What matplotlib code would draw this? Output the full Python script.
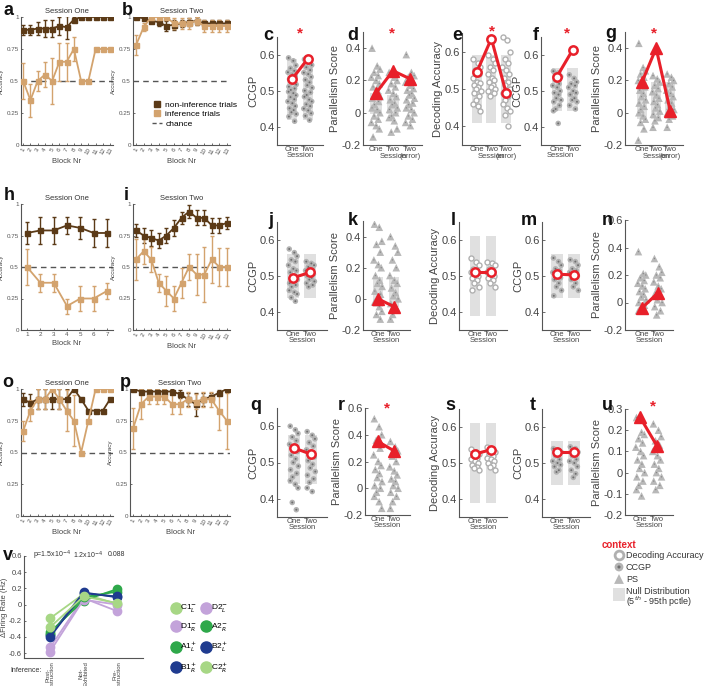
import matplotlib
matplotlib.use('Agg')
import matplotlib.pyplot as plt
from matplotlib.lines import Line2D
from matplotlib.patches import Rectangle

plt.rcParams['font.family'] = ['Liberation Sans', 'DejaVu Sans']

W, H = 707, 686
DARK = '#5b3a17'
LIGHT = '#d3a36e'
RED = '#e8202a'
NULLC = '#e0e0e0'

# ---------- behaviour: accuracy per block ----------
blocks13 = list(range(1, 14))
blocks7 = list(range(1, 8))

a_non = [0.90, 0.90, 0.91, 0.91, 0.91, 0.93, 0.92, 0.98, 1.0, 1.0, 1.0, 1.0, 1.0]
a_non_err = [0.04, 0.04, 0.05, 0.07, 0.07, 0.07, 0.09, 0.02, 0, 0, 0, 0, 0]
a_inf = [0.50, 0.35, 0.50, 0.55, 0.50, 0.65, 0.65, 0.75, 0.50, 0.50, 0.75, 0.75, 0.75]
a_inf_err = [0.14, 0.13, 0.08, 0.10, 0.18, 0.15, 0.15, 0.09, 0, 0, 0, 0, 0]

b_non = [1.0, 0.99, 0.97, 0.96, 0.93, 0.94, 0.95, 0.96, 0.97, 0.95, 0.95, 0.95, 0.95]
b_non_err = [0.01, 0.01, 0.02, 0.03, 0.04, 0.04, 0.03, 0.03, 0.03, 0.03, 0.03, 0.03, 0.03]
b_inf = [0.78, 0.92, 1.0, 1.0, 1.0, 0.95, 0.95, 0.95, 0.97, 0.93, 0.93, 0.93, 0.93]
b_inf_err = [0.08, 0.03, 0, 0, 0, 0.04, 0.04, 0.04, 0.03, 0.05, 0.05, 0.05, 0.05]

h_non = [0.77, 0.79, 0.79, 0.83, 0.81, 0.77, 0.77]
h_non_err = [0.09, 0.11, 0.11, 0.07, 0.09, 0.11, 0.11]
h_inf = [0.50, 0.375, 0.375, 0.19, 0.25, 0.25, 0.31]
h_inf_err = [0.14, 0.07, 0.07, 0.06, 0.10, 0.10, 0.06]

i_non = [0.79, 0.75, 0.73, 0.71, 0.75, 0.81, 0.89, 0.94, 0.89, 0.89, 0.83, 0.83, 0.85]
i_non_err = [0.05, 0.06, 0.06, 0.06, 0.06, 0.06, 0.05, 0.05, 0.06, 0.06, 0.06, 0.06, 0.05]
i_inf = [0.56, 0.625, 0.56, 0.375, 0.31, 0.25, 0.375, 0.50, 0.44, 0.44, 0.56, 0.50, 0.50]
i_inf_err = [0.16, 0.10, 0.10, 0.07, 0.12, 0.10, 0.12, 0.10, 0.16, 0.22, 0.19, 0.15, 0.15]

o_non = [0.92, 0.89, 0.92, 0.92, 0.92, 0.92, 0.92, 1.0, 0.92, 0.83, 0.83, 0.83, 0.92]
o_non_err = [0.05, 0.07, 0.08, 0.08, 0.08, 0.08, 0.08, 0, 0, 0, 0, 0, 0]
o_inf = [0.67, 0.83, 0.92, 0.92, 1.0, 0.92, 0.83, 0.75, 0.50, 0.75, 1.0, 1.0, 1.0]
o_inf_err = [0.08, 0.08, 0.08, 0.08, 0, 0.08, 0.16, 0.20, 0, 0, 0, 0, 0]

p_non = [1.0, 0.98, 0.98, 0.98, 0.98, 0.98, 0.96, 0.92, 0.88, 0.92, 0.94, 0.97, 1.0]
p_non_err = [0.01, 0.02, 0.02, 0.02, 0.02, 0.02, 0.03, 0.05, 0.09, 0.05, 0.03, 0.02, 0.01]
p_inf = [0.69, 0.88, 0.94, 0.94, 0.94, 0.88, 0.88, 0.92, 0.90, 0.92, 0.92, 0.83, 0.75]
p_inf_err = [0.16, 0.12, 0.06, 0.06, 0.06, 0.08, 0.08, 0.06, 0.06, 0.06, 0.06, 0.15, 0.22]

# ---------- geometry scores ----------
c_one = [0.592, 0.584, 0.571, 0.563, 0.556, 0.552, 0.546, 0.541, 0.533, 0.527, 0.522, 0.518, 0.512, 0.507,
         0.503, 0.498, 0.494, 0.488, 0.483, 0.477, 0.471, 0.466, 0.458, 0.452, 0.447, 0.441, 0.436, 0.429, 0.416]
c_two = [0.588, 0.579, 0.572, 0.566, 0.558, 0.551, 0.547, 0.539, 0.531, 0.524, 0.516, 0.509, 0.501, 0.496,
         0.489, 0.484, 0.476, 0.471, 0.463, 0.458, 0.451, 0.446, 0.438, 0.431, 0.419]
c_mean = [0.533, 0.590]

d_one = [0.40, 0.29, 0.27, 0.25, 0.23, 0.22, 0.20, 0.18, 0.16, 0.14, 0.12, 0.10, 0.09, 0.07, 0.05, 0.03, 0.02,
         0.0, -0.02, -0.04, -0.06, -0.08, -0.10, -0.15]
d_two = [0.25, 0.22, 0.20, 0.18, 0.16, 0.14, 0.12, 0.10, 0.08, 0.06, 0.05, 0.03, 0.02, 0.0, -0.02, -0.03,
         -0.05, -0.10, -0.12]
d_err = [0.36, 0.25, 0.23, 0.22, 0.20, 0.19, 0.17, 0.15, 0.14, 0.12, 0.11, 0.09, 0.08, 0.06, 0.05, 0.03, 0.02,
         0.0, -0.02, -0.04, -0.06, -0.08]
d_mean = [0.12, 0.26, 0.21]

e_one = [0.58, 0.57, 0.56, 0.55, 0.54, 0.53, 0.52, 0.515, 0.51, 0.505, 0.50, 0.495, 0.49, 0.48, 0.47, 0.46,
         0.455, 0.44]
e_two = [0.59, 0.58, 0.57, 0.56, 0.55, 0.54, 0.53, 0.525, 0.52, 0.51, 0.505, 0.50, 0.495, 0.49, 0.48]
e_err = [0.64, 0.63, 0.60, 0.58, 0.57, 0.56, 0.55, 0.54, 0.53, 0.52, 0.51, 0.50, 0.49, 0.48, 0.47, 0.46,
         0.45, 0.44, 0.43, 0.40]
e_mean = [0.545, 0.635, 0.49]

f_one = [0.555, 0.55, 0.54, 0.53, 0.52, 0.515, 0.51, 0.50, 0.495, 0.49, 0.48, 0.475, 0.47, 0.46, 0.45,
         0.445, 0.41]
f_two = [0.545, 0.535, 0.525, 0.52, 0.515, 0.51, 0.50, 0.495, 0.49, 0.48, 0.475, 0.47, 0.46, 0.45]
f_mean = [0.54, 0.615]

g_one = [0.43, 0.28, 0.26, 0.24, 0.22, 0.20, 0.18, 0.16, 0.14, 0.12, 0.10, 0.08, 0.06, 0.04, 0.02, 0.0,
         -0.02, -0.04, -0.06, -0.10, -0.17]
g_two = [0.23, 0.21, 0.19, 0.17, 0.15, 0.13, 0.11, 0.09, 0.07, 0.05, 0.03, 0.01, -0.01, -0.03, -0.05, -0.09]
g_err = [0.24, 0.22, 0.20, 0.18, 0.16, 0.14, 0.12, 0.10, 0.08, 0.06, 0.04, 0.02, 0.0, -0.02, -0.04, -0.09]
g_mean = [0.19, 0.40, 0.01]

j_one = [0.575, 0.565, 0.555, 0.545, 0.54, 0.53, 0.52, 0.515, 0.51, 0.50, 0.495, 0.49, 0.48, 0.475, 0.47,
         0.46, 0.455, 0.45, 0.44, 0.43]
j_two = [0.54, 0.535, 0.53, 0.525, 0.52, 0.515, 0.51, 0.505, 0.50, 0.495, 0.49, 0.485, 0.48, 0.475, 0.47]
j_mean = [0.495, 0.51]

k_one = [0.48, 0.46, 0.37, 0.35, 0.30, 0.25, 0.22, 0.20, 0.15, 0.12, 0.10, 0.08, 0.05, 0.03, 0.0, -0.02,
         -0.05, -0.08, -0.10, -0.13]
k_two = [0.40, 0.34, 0.30, 0.25, 0.20, 0.15, 0.12, 0.10, 0.07, 0.04, 0.02, 0.0, -0.03, -0.06, -0.10, -0.13]
k_mean = [0.0, -0.05]

l_one = [0.55, 0.54, 0.53, 0.52, 0.515, 0.51, 0.505, 0.50, 0.495, 0.49, 0.48, 0.47, 0.46]
l_two = [0.54, 0.535, 0.53, 0.52, 0.515, 0.51, 0.505, 0.50, 0.495, 0.49, 0.48, 0.47]
l_mean = [0.51, 0.51]

m_one = [0.55, 0.54, 0.53, 0.52, 0.515, 0.51, 0.50, 0.495, 0.49, 0.48, 0.47, 0.46, 0.445]
m_two = [0.545, 0.54, 0.53, 0.52, 0.515, 0.51, 0.505, 0.50, 0.49, 0.48, 0.47, 0.46]
m_mean = [0.505, 0.503]

n_one = [0.37, 0.21, 0.20, 0.18, 0.16, 0.14, 0.12, 0.10, 0.08, 0.06, 0.04, 0.02, 0.0, -0.02, -0.04, -0.06]
n_two = [0.32, 0.26, 0.22, 0.20, 0.18, 0.15, 0.12, 0.10, 0.07, 0.05, 0.02, 0.0, -0.03, -0.06, -0.09]
n_mean = [-0.04, 0.07]

q_one = [0.60, 0.59, 0.58, 0.57, 0.56, 0.55, 0.54, 0.53, 0.52, 0.51, 0.50, 0.49, 0.48, 0.47, 0.46, 0.45,
         0.44, 0.43, 0.39, 0.37]
q_two = [0.585, 0.575, 0.565, 0.555, 0.545, 0.535, 0.525, 0.515, 0.505, 0.495, 0.485, 0.475, 0.465, 0.455,
         0.445, 0.43, 0.42]
q_mean = [0.54, 0.523]

r_one = [0.52, 0.46, 0.40, 0.36, 0.30, 0.25, 0.20, 0.17, 0.14, 0.11, 0.08, 0.05, 0.02, 0.0, -0.03, -0.06,
         -0.10, -0.15]
r_two = [0.35, 0.31, 0.28, 0.24, 0.20, 0.16, 0.13, 0.10, 0.07, 0.05, 0.02, 0.0, -0.03, -0.06, -0.10, -0.15]
r_mean = [0.35, 0.28]

s_one = [0.54, 0.53, 0.525, 0.52, 0.515, 0.51, 0.505, 0.50, 0.495, 0.49, 0.485, 0.48]
s_two = [0.545, 0.54, 0.53, 0.525, 0.52, 0.515, 0.51, 0.505, 0.50, 0.495, 0.49, 0.48]
s_mean = [0.525, 0.537]

t_one = [0.54, 0.535, 0.53, 0.52, 0.51, 0.505, 0.50, 0.495, 0.49, 0.48, 0.475]
t_two = [0.545, 0.54, 0.53, 0.52, 0.51, 0.505, 0.50, 0.49, 0.48, 0.47, 0.46]
t_mean = [0.53, 0.53]

u_one = [0.26, 0.19, 0.18, 0.16, 0.14, 0.12, 0.10, 0.08, 0.06, 0.04, 0.02, 0.0, -0.02, -0.04, -0.06,
         -0.08, -0.11]
u_two = [0.23, 0.20, 0.17, 0.15, 0.13, 0.10, 0.08, 0.06, 0.04, 0.02, 0.0, -0.02, -0.04, -0.06, -0.08]
u_mean = [0.26, 0.125]

# ---------- v: firing rate change ----------
v_conditions = ['Post-\nInstruction', 'Not-\nExhibited', 'Pre-\nInstruction']
v_names = [r'C1$^{-}_{L}$', r'D1$^{-}_{R}$', r'A1$^{+}_{L}$', r'B1$^{+}_{R}$',
           r'D2$^{-}_{L}$', r'A2$^{-}_{R}$', r'B2$^{+}_{L}$', r'C2$^{+}_{R}$']
v_values = [[-0.17, 0.13, 0.01], [-0.53, 0.08, -0.08], [-0.34, 0.05, 0.19], [-0.38, 0.15, 0.09],
            [-0.58, 0.06, 0.0], [-0.36, 0.09, 0.16], [-0.40, 0.14, 0.10], [-0.28, 0.10, 0.02]]
v_colors = ['#a7d785', '#c3a3da', '#2ea84a', '#1f3b8f', '#c3a3da', '#2ea84a', '#1f3b8f', '#a7d785']
v_pvals = [r'p=1.5x10$^{-4}$', r'1.2x10$^{-4}$', '0.088']

fig = plt.figure(figsize=(7.07, 6.86), dpi=100)


def box(x0, y0, x1, y1):
    return fig.add_axes([x0 / W, 1 - y1 / H, (x1 - x0) / W, (y1 - y0) / H])


def ftext(x, y, s, **kw):
    fig.text(x / W, 1 - y / H, s, **kw)


def clean(ax):
    for sp in ['top', 'right']:
        ax.spines[sp].set_visible(False)
    for sp in ['left', 'bottom']:
        ax.spines[sp].set_color('#555555')
        ax.spines[sp].set_linewidth(0.8)


def acc_panel(ax, blocks, non, non_err, inf, inf_err, title, xlim, rot=60):
    clean(ax)
    ax.axhline(0.5, color='#555555', lw=1, dashes=(4, 3), zorder=1)
    ax.errorbar(blocks, non, yerr=non_err, color=DARK, marker='s', ms=3.6, lw=1.3,
                elinewidth=1, capsize=1.5, zorder=3)
    ax.errorbar(blocks, inf, yerr=inf_err, color=LIGHT, marker='s', ms=3.6, lw=1.3,
                elinewidth=1, capsize=1.5, zorder=3)
    ax.set_ylim(0, 1)
    ax.set_xlim(*xlim)
    ax.set_yticks([0, 0.25, 0.5, 0.75, 1])
    ax.set_yticklabels(['0', '0.25', '0.5', '0.75', '1'], fontsize=4.5, color='#444444')
    ax.set_xticks(blocks)
    ax.set_xticklabels([str(b) for b in blocks], fontsize=4.5, rotation=rot, color='#444444')
    ax.tick_params(direction='in', length=1.5, width=0.6, pad=1.5, colors='#555555')
    ax.set_ylabel('Accuracy', fontsize=4.5, color='#444444', labelpad=2)
    ax.set_xlabel('Block Nr', fontsize=5.5, color='#444444', labelpad=2)
    ax.set_title(title, fontsize=5.5, color='#333333', pad=3)


JIT = [-0.22, 0.08, 0.24, -0.10, 0.14, -0.26, 0.02, 0.20, -0.16, 0.10, -0.04, 0.26, -0.20, 0.16, -0.08]


def score_panel(ax, cols, means, kind, ylim, xlim, yticks, ylabel, nulls=None, three=False):
    clean(ax)
    for i, vals in enumerate(cols):
        x = i + 1
        if nulls is not None and nulls[i] is not None:
            lo, hi = nulls[i]
            ax.add_patch(Rectangle((x - 0.34, lo), 0.68, hi - lo, color=NULLC, lw=0, zorder=0))
        xs = [x + JIT[k % len(JIT)] for k in range(len(vals))]
        if kind == 'ccgp':
            ax.scatter(xs, vals, s=16, c='#b3b3b3', edgecolors='none', zorder=2)
            ax.scatter(xs, vals, s=2, c='#6e6e6e', edgecolors='none', zorder=3)
        elif kind == 'dec':
            ax.scatter(xs, vals, s=13, facecolors='white', edgecolors='#b0b0b0', linewidths=1, zorder=2)
        else:
            ax.scatter(xs, vals, s=30, marker='^', c='#b8b8b8', edgecolors='none', zorder=2)
            ax.scatter(xs, vals, s=1, c='#888888', edgecolors='none', zorder=3)
    mx = list(range(1, len(means) + 1))
    if kind == 'ps':
        ax.plot(mx, means, color=RED, lw=2.2, marker='^', ms=8, mfc=RED, mec=RED, zorder=5)
    else:
        ax.plot(mx, means, color=RED, lw=2.2, marker='o', ms=6, mfc='white', mec=RED, mew=1.8, zorder=5)
    ax.set_ylim(*ylim)
    ax.set_xlim(*xlim)
    ax.set_yticks(yticks)
    ax.set_yticklabels([('%g' % t) if t != 0 else '0' for t in yticks], fontsize=8, color='#444444')
    ax.set_xticks(mx)
    if three:
        ax.set_xticklabels(['One', 'Two\nSession', 'Two\n(error)'], fontsize=5.5, color='#444444',
                           linespacing=0.85)
    else:
        ax.set_xticklabels(['One', 'Two'], fontsize=5.5, color='#444444')
        ax.set_xlabel('Session', fontsize=5.5, color='#444444', labelpad=-1)
    ax.tick_params(axis='x', length=0, pad=1)
    ax.tick_params(axis='y', direction='in', length=2, width=0.6, pad=1.5, colors='#555555')
    ax.tick_params(axis='y', labelcolor='#444444')
    ax.set_ylabel(ylabel, fontsize=8, color='#444444', labelpad=1)


# ---------- accuracy panels ----------
ax = box(21, 17, 113, 145)
acc_panel(ax, blocks13, a_non, a_non_err, a_inf, a_inf_err, 'Session One', (0.7, 13.4))
ax = box(133, 17, 230, 145)
acc_panel(ax, blocks13, b_non, b_non_err, b_inf, b_inf_err, 'Session Two', (0.6, 13.4))
handles = [Line2D([], [], color=DARK, marker='s', ms=4, lw=0),
           Line2D([], [], color=LIGHT, marker='s', ms=4, lw=0),
           Line2D([], [], color='#555555', lw=1, dashes=(3, 2))]
ax.legend(handles, ['non-inference trials', 'inference trials', 'chance'], loc='upper left',
          bbox_to_anchor=(0.16, 0.37), frameon=False, fontsize=6, handlelength=1.2,
          handletextpad=0.4, labelspacing=0.2, borderaxespad=0)

ax = box(21, 204, 113, 330)
acc_panel(ax, blocks7, h_non, h_non_err, h_inf, h_inf_err, 'Session One', (0.55, 7.45), rot=0)
ax = box(133, 204, 230, 330)
acc_panel(ax, blocks13, i_non, i_non_err, i_inf, i_inf_err, 'Session Two', (0.6, 13.4))

ax = box(21, 389, 113, 516)
acc_panel(ax, blocks13, o_non, o_non_err, o_inf, o_inf_err, 'Session One', (0.7, 13.4))
ax = box(130, 389, 230, 516)
acc_panel(ax, blocks13, p_non, p_non_err, p_inf, p_inf_err, 'Session Two', (0.6, 13.4))

# ---------- geometry panels row 1 ----------
ccgp_t = [0.4, 0.5, 0.6]
ps_t = [-0.2, 0, 0.2, 0.4]
ax = box(277, 37, 323, 145)
score_panel(ax, [c_one, c_two], c_mean, 'ccgp', (0.35, 0.65), (0.05, 2.95), ccgp_t, 'CCGP',
            nulls=[(0.42, 0.59), (0.42, 0.59)])
ax = box(363, 32, 422, 145)
score_panel(ax, [d_one, d_two, d_err], d_mean, 'ps', (-0.2, 0.5), (0.25, 3.7), ps_t, 'Parallelism Score',
            nulls=[(-0.01, 0.12), (-0.01, 0.11), None], three=True)
ax = box(462, 33, 520, 145)
score_panel(ax, [e_one, e_two, e_err], e_mean, 'dec', (0.35, 0.65), (0.0, 3.95), ccgp_t, 'Decoding Accuracy',
            nulls=[(0.41, 0.59), (0.41, 0.59), (0.41, 0.59)], three=True)
ax = box(541, 37, 580, 145)
score_panel(ax, [f_one, f_two], f_mean, 'ccgp', (0.35, 0.65), (0.0, 2.45), ccgp_t, 'CCGP',
            nulls=[(0.445, 0.565), (0.445, 0.565)])
ax = box(625, 32, 683, 145)
score_panel(ax, [g_one, g_two, g_err], g_mean, 'ps', (-0.2, 0.5), (-0.2, 3.9), ps_t, 'Parallelism Score',
            nulls=[(-0.04, 0.19), (-0.04, 0.19), (-0.04, 0.19)], three=True)

# ---------- row 2 ----------
ax = box(277, 222, 327, 330)
score_panel(ax, [j_one, j_two], j_mean, 'ccgp', (0.35, 0.65), (0.06, 3.0), ccgp_t, 'CCGP',
            nulls=[(0.44, 0.56), (0.44, 0.56)])
ax = box(363, 221, 410, 330)
score_panel(ax, [k_one, k_two], k_mean, 'ps', (-0.2, 0.5), (0.06, 3.0), ps_t, 'Parallelism Score',
            nulls=[(-0.05, 0.14), (-0.05, 0.14)])
ax = box(459, 222, 507, 330)
score_panel(ax, [l_one, l_two], l_mean, 'dec', (0.35, 0.65), (0.0, 3.0), ccgp_t, 'Decoding Accuracy',
            nulls=[(0.39, 0.61), (0.39, 0.61)])
ax = box(542, 222, 590, 330)
score_panel(ax, [m_one, m_two], m_mean, 'ccgp', (0.35, 0.65), (0.1, 2.95), ccgp_t, 'CCGP',
            nulls=[(0.44, 0.56), (0.44, 0.56)])
ax = box(625, 220, 673, 330)
score_panel(ax, [n_one, n_two], n_mean, 'ps', (-0.2, 0.6), (-0.06, 2.94), [-0.2, 0, 0.2, 0.4, 0.6],
            'Parallelism Score')

# ---------- row 3 ----------
ax = box(277, 408, 327, 517)
score_panel(ax, [q_one, q_two], q_mean, 'ccgp', (0.35, 0.65), (0.0, 2.95), ccgp_t, 'CCGP',
            nulls=[(0.44, 0.575), (0.44, 0.575)])
ax = box(365, 408, 410, 515)
score_panel(ax, [r_one, r_two], r_mean, 'ps', (-0.2, 0.6), (0.2, 3.0), [-0.2, 0, 0.2, 0.4, 0.6],
            'Parallelism Score')
ax = box(459, 409, 507, 517)
score_panel(ax, [s_one, s_two], s_mean, 'dec', (0.35, 0.65), (0.0, 3.0), ccgp_t, 'Decoding Accuracy',
            nulls=[(0.39, 0.61), (0.39, 0.61)])
ax = box(542, 409, 590, 517)
score_panel(ax, [t_one, t_two], t_mean, 'ccgp', (0.35, 0.65), (0.1, 2.95), ccgp_t, 'CCGP',
            nulls=[(0.44, 0.56), (0.44, 0.56)])
ax = box(625, 409, 673, 515)
score_panel(ax, [u_one, u_two], u_mean, 'ps', (-0.2, 0.3), (0.1, 2.94), [-0.2, -0.1, 0, 0.1, 0.2, 0.3],
            'Parallelism Score')

# ---------- v ----------
ax = box(24, 556, 143, 658)
clean(ax)
for vals, col in zip(v_values, v_colors):
    ax.plot([1, 2, 3], vals, color=col, lw=1.3, marker='o', ms=6, zorder=3)
ax.set_ylim(-0.66, 0.6)
ax.set_xlim(0.22, 3.78)
ax.set_yticks([-0.6, -0.4, -0.2, 0, 0.2, 0.4, 0.6])
ax.set_yticklabels(['-0.6', '-0.4', '-0.2', '0', '0.2', '0.4', '0.6'], fontsize=5.5, color='#444444')
ax.set_xticks([1, 2, 3])
ax.set_xticklabels(v_conditions, fontsize=4.3, rotation=90, color='#444444', linespacing=0.85, va='top')
ax.tick_params(axis='x', length=0, pad=2)
ax.tick_params(axis='y', direction='in', length=1.5, width=0.6, pad=1.5, colors='#555555')
ax.tick_params(axis='y', labelcolor='#444444')
ax.set_ylabel('ΔFiring Rate (Hz)', fontsize=5.5, color='#444444', labelpad=1)
for k, s in enumerate(v_pvals):
    ftext([33, 73, 108][k], 555, s, fontsize=5, color='#333333', va='center')
ftext(10, 671, 'Inference:', fontsize=5, color='#333333', va='center')
vh = [Line2D([], [], color=c, marker='o', ms=8, lw=0) for c in v_colors]
ax.legend(vh, v_names, ncol=2, loc='upper left', bbox_to_anchor=(168 / W, 1 - 600 / H),
          bbox_transform=fig.transFigure, frameon=False, fontsize=6, handletextpad=0.1,
          labelspacing=0.75, columnspacing=0.5, handlelength=1.0, borderaxespad=0)

# ---------- context legend ----------
lg = box(600, 538, 707, 610)
lg.axis('off')
lg.set_xlim(600, 707)
lg.set_ylim(610, 538)
lg.text(602, 545, 'context', color=RED, fontsize=7, fontweight='bold', va='center')
lg.scatter([619], [555], s=40, facecolors='white', edgecolors='#b0b0b0', linewidths=2)
lg.text(626, 555, 'Decoding Accuracy', fontsize=6.5, color='#333333', va='center')
lg.scatter([619], [567], s=40, c='#b3b3b3', edgecolors='none')
lg.scatter([619], [567], s=5, c='#6e6e6e', edgecolors='none')
lg.text(626, 567, 'CCGP', fontsize=6.5, color='#333333', va='center')
lg.scatter([619], [579], s=50, marker='^', c='#b8b8b8', edgecolors='none')
lg.text(626, 579, 'PS', fontsize=6.5, color='#333333', va='center')
lg.add_patch(Rectangle((613, 588), 12, 13, color=NULLC, lw=0))
lg.text(626, 591, 'Null Distribution', fontsize=6.5, color='#333333', va='center')
lg.text(626, 602, r'(5$^{th}$ - 95th pctle)', fontsize=6.5, color='#333333', va='center')

# ---------- panel letters and stars ----------
letters = [('a', 4, 15), ('b', 122, 15), ('c', 263, 40), ('d', 347, 40), ('e', 452, 40), ('f', 533, 40),
           ('g', 605, 38), ('h', 4, 200), ('i', 124, 200), ('j', 268, 225), ('k', 348, 225), ('l', 451, 225),
           ('m', 521, 225), ('n', 602, 225), ('o', 2, 387), ('p', 120, 387), ('q', 250, 410), ('r', 338, 410),
           ('s', 445, 410), ('t', 530, 410), ('u', 602, 410), ('v', 3, 560)]
for s, x, y in letters:
    ftext(x, y, s, fontsize=13, fontweight='bold', va='baseline', color='#111111')
for x, y in [(300, 33), (392, 33), (492, 31), (567, 33), (654, 33), (387, 408), (653, 406)]:
    ftext(x, y, '*', fontsize=11, color=RED, ha='center', va='center', fontweight='bold')

fig.savefig('out.png', dpi=100)
